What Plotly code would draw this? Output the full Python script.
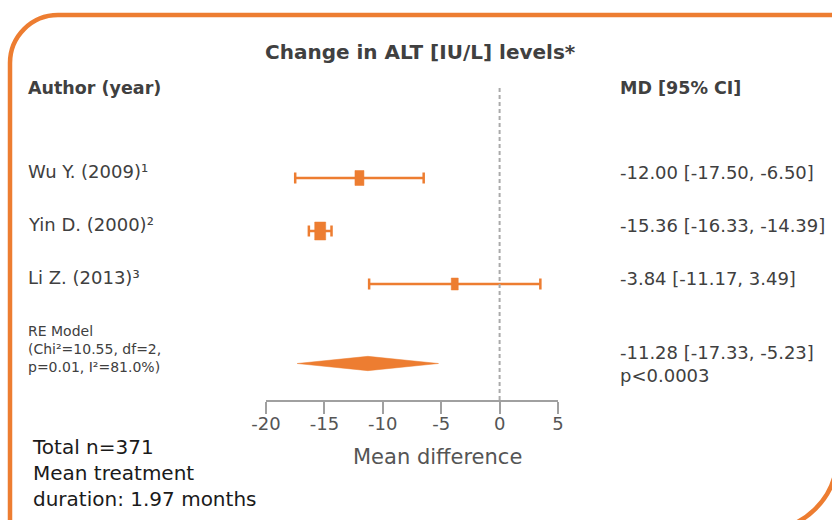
import plotly.graph_objects as go

# ---- data ----
studies = ["Wu Y. (2009)¹", "Yin D. (2000)²", "Li Z. (2013)³"]
md = [-12.00, -15.36, -3.84]
ci_low = [-17.50, -16.33, -11.17]
ci_high = [-6.50, -14.39, 3.49]
box_h_px = [15, 18, 12]           # box height per study (px), reflects study weight
box_w_px = [9, 11, 7]             # box width per study (px)
row_pos = [1, 2, 3]
pooled_md, pooled_low, pooled_high = -11.28, -17.33, -5.23
pooled_row = 4.5
pooled_p = "p<0.0003"
het_text = ["RE Model", "(Chi²=10.55, df=2,", "p=0.01, I²=81.0%)"]
x_ticks = [-20, -15, -10, -5, 0, 5]
x_ticktext = ["-20", "-15", "-10", "-5", "0", "5"]

ORANGE = "#ED7D31"
TEXT = "#404040"
FONT = "DejaVu Sans"

W, H = 832, 520
X_LEFT_PX, X_RIGHT_PX = 266, 558      # horizontal extent of the axis
Y_TOP_PX, Y_BOT_PX = 88, 400          # vertical extent of the plotting band
X_RANGE = [-20, 5]
ROW_PX, ROW1_PX = 53, 178             # row spacing and first row position

def px(x):
    return x / W
def py(y):
    return 1 - y / H

x_scale = (X_RIGHT_PX - X_LEFT_PX) / (X_RANGE[1] - X_RANGE[0])   # px per unit
y_top = 1 - (ROW1_PX - Y_TOP_PX) / ROW_PX
y_bot = 1 + (Y_BOT_PX - ROW1_PX) / ROW_PX

fig = go.Figure()

# confidence intervals
fig.add_trace(go.Scatter(
    x=md, y=row_pos, mode="markers", marker=dict(size=1, color="rgba(0,0,0,0)"),
    error_x=dict(type="data", symmetric=False,
                 array=[h - m for h, m in zip(ci_high, md)],
                 arrayminus=[m - l for m, l in zip(md, ci_low)],
                 color=ORANGE, thickness=2.5, width=5.5),
    hoverinfo="skip", showlegend=False,
))

# weighted boxes at each point estimate
for m, r, bw, bh in zip(md, row_pos, box_w_px, box_h_px):
    hw = bw / 2 / x_scale
    hh = bh / 2 / ROW_PX
    fig.add_trace(go.Scatter(
        x=[m - hw, m + hw, m + hw, m - hw, m - hw],
        y=[r - hh, r - hh, r + hh, r + hh, r - hh],
        mode="lines", fill="toself", fillcolor=ORANGE,
        line=dict(color=ORANGE, width=0.5),
        hoverinfo="skip", showlegend=False,
    ))

# pooled estimate diamond
dh = 0.135
fig.add_trace(go.Scatter(
    x=[pooled_low, pooled_md, pooled_high, pooled_md, pooled_low],
    y=[pooled_row, pooled_row - dh, pooled_row, pooled_row + dh, pooled_row],
    mode="lines", fill="toself", fillcolor=ORANGE,
    line=dict(color=ORANGE, width=0.5),
    hoverinfo="skip", showlegend=False,
))

annotations = []
# left-hand study names
for name, r in zip(studies, row_pos):
    annotations.append(dict(x=px(26), y=r, xref="paper", yref="y", text=name,
                            xanchor="left", yanchor="middle", yshift=7, showarrow=False,
                            font=dict(family=FONT, size=18, color=TEXT)))
# right-hand effect sizes
for m, l, h, r in zip(md, ci_low, ci_high, row_pos):
    annotations.append(dict(x=px(618), y=r, xref="paper", yref="y",
                            text=f"{m:.2f} [{l:.2f}, {h:.2f}]",
                            xanchor="left", yanchor="middle", yshift=6, showarrow=False,
                            font=dict(family=FONT, size=18, color=TEXT)))
annotations.append(dict(x=px(618), y=pooled_row, xref="paper", yref="y",
                        text=f"{pooled_md:.2f} [{pooled_low:.2f}, {pooled_high:.2f}]<br>{pooled_p}",
                        xanchor="left", yanchor="middle", yshift=0, showarrow=False, align="left",
                        font=dict(family=FONT, size=18, color=TEXT)))
annotations.append(dict(x=px(26), y=pooled_row, xref="paper", yref="y",
                        text="<br>".join(het_text),
                        xanchor="left", yanchor="middle", yshift=15, showarrow=False, align="left",
                        font=dict(family=FONT, size=14, color=TEXT)))
# headers
annotations.append(dict(x=px(420), y=py(52), xref="paper", yref="paper",
                        text="<b>Change in ALT [IU/L] levels*</b>", showarrow=False,
                        xanchor="center", yanchor="middle",
                        font=dict(family=FONT, size=20, color=TEXT)))
annotations.append(dict(x=px(26), y=py(88), xref="paper", yref="paper",
                        text="<b>Author (year)</b>", showarrow=False,
                        xanchor="left", yanchor="middle",
                        font=dict(family=FONT, size=17.5, color=TEXT)))
annotations.append(dict(x=px(618), y=py(88), xref="paper", yref="paper",
                        text="<b>MD [95% CI]</b>", showarrow=False,
                        xanchor="left", yanchor="middle",
                        font=dict(family=FONT, size=17.5, color=TEXT)))
# axis caption
annotations.append(dict(x=px(437), y=py(457), xref="paper", yref="paper",
                        text="Mean difference", showarrow=False,
                        xanchor="center", yanchor="middle",
                        font=dict(family=FONT, size=21, color="#555555")))
# footnote block
annotations.append(dict(x=px(30), y=py(473), xref="paper", yref="paper",
                        text="Total n=371<br>Mean treatment<br>duration: 1.97 months",
                        showarrow=False, xanchor="left", yanchor="middle", align="left",
                        font=dict(family=FONT, size=20, color="#1a1a1a")))

# rounded orange frame (top-left and bottom-right corners visible)
def frame_path():
    k = 0.5523
    L, T, R, B = 10, 15, 837, 530
    r1, r2 = 48, 73
    pts = [
        f"M{px(L)},{py(B + 10)}",
        f"L{px(L)},{py(T + r1)}",
        f"C{px(L)},{py(T + r1 - k * r1)} {px(L + r1 - k * r1)},{py(T)} {px(L + r1)},{py(T)}",
        f"L{px(R)},{py(T)}",
        f"L{px(R)},{py(B - r2)}",
        f"C{px(R)},{py(B - r2 + k * r2)} {px(R - r2 + k * r2)},{py(B)} {px(R - r2)},{py(B)}",
        f"L{px(L)},{py(B)}",
    ]
    return " ".join(pts)

shapes = [
    dict(type="line", xref="x", yref="y domain", x0=0, x1=0, y0=0, y1=1,
         line=dict(color="#aaaaaa", width=2, dash="4px,3px")),
    dict(type="path", xref="paper", yref="paper", path=frame_path(),
         line=dict(color=ORANGE, width=4.5)),
]

fig.update_layout(
    width=W, height=H, margin=dict(l=0, r=0, t=0, b=0, pad=0),
    plot_bgcolor="white", paper_bgcolor="white",
    annotations=annotations, shapes=shapes,
    xaxis=dict(domain=[px(X_LEFT_PX), px(X_RIGHT_PX)], range=X_RANGE,
               tickvals=x_ticks, ticktext=x_ticktext, automargin=False,
               showline=True, linecolor="#a0a0a0", linewidth=1.5,
               ticks="outside", ticklen=12, tickcolor="#a0a0a0", tickwidth=1.5,
               ticklabelstandoff=-5,
               showgrid=False, zeroline=False,
               tickfont=dict(family=FONT, size=18, color="#555555")),
    yaxis=dict(domain=[py(Y_BOT_PX), py(Y_TOP_PX)], range=[y_bot, y_top],
               visible=False, automargin=False),
)

fig.write_html("out.html")
